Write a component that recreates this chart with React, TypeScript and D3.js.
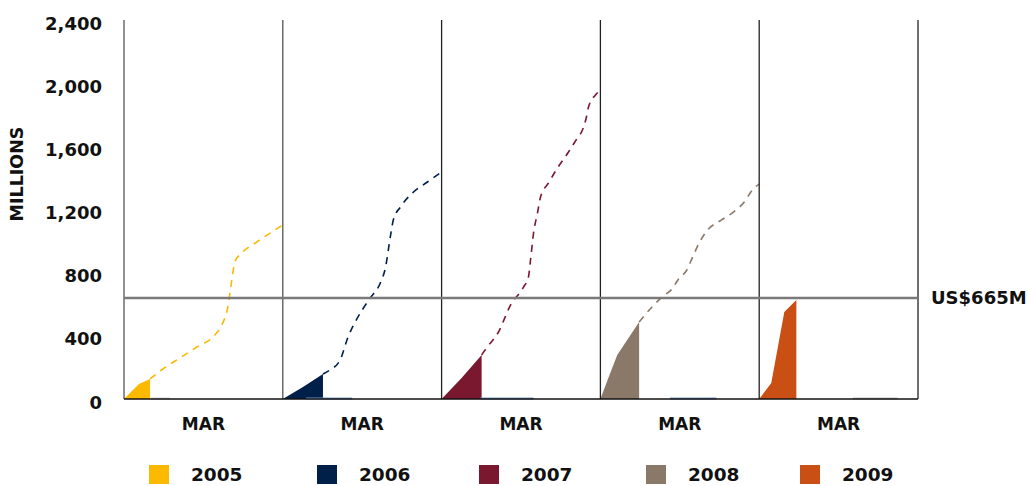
import React from "react";
import * as d3 from "d3";

// ---- Data (x = % of the year panel, value = US$ millions) ----
const YEARS = ["2005", "2006", "2007", "2008", "2009"];
const COLORS = ["#FBB900", "#00204A", "#7A1830", "#8A7869", "#C94F14"];
const Y_TICKS = [0, 400, 800, 1200, 1600, 2000, 2400];
const X_LABEL = "MAR";
const TARGET_VALUE = 640;
const TARGET_LABEL = "US$665M";

const actual2005: [number, number][] = [[0, 0], [9.4, 95], [16.4, 127]];
const actual2006: [number, number][] = [[0, 0], [12.7, 76], [25.3, 158]];
const actual2007: [number, number][] = [[0, 0], [12.6, 133], [25.2, 279]];
const actual2008: [number, number][] = [[0, 0], [5, 133], [10.6, 279], [24.4, 488]];
const actual2009: [number, number][] = [[0, 0], [7.6, 101], [15.8, 551], [23.4, 627]];

const proj2005: [number, number][] = [
  [16.4, 127], [24.5, 190], [35.2, 260], [45.9, 329], [57.2, 405], [61.6, 469],
  [65.4, 583], [67.9, 754], [69.8, 868], [74.2, 925], [83.6, 994], [95, 1070], [100, 1102],
];
const proj2006: [number, number][] = [
  [25.3, 158], [29.7, 184], [36.1, 247], [41.1, 393], [45.6, 488], [50, 564],
  [55.1, 640], [61.4, 735], [64.6, 830], [67.7, 1026], [69.6, 1134], [74.1, 1216],
  [81.6, 1304], [91.1, 1374], [100, 1437],
];
const proj2007: [number, number][] = [
  [25.2, 279], [28.3, 323], [35.8, 424], [43.4, 595], [51.6, 709], [54.7, 773],
  [56, 880], [57.9, 1051], [60.4, 1178], [62.3, 1279], [67.3, 1368], [73, 1463],
  [79.9, 1564], [85.5, 1653], [88.7, 1703], [91.2, 1786], [92.5, 1849], [96.9, 1925], [98.7, 1944],
];
const proj2008: [number, number][] = [
  [24.4, 488], [32.5, 583], [38.8, 646], [45.6, 703], [48.8, 754], [54.4, 817],
  [58.1, 899], [62.5, 994], [67.5, 1070], [76.3, 1134], [83.1, 1178], [90.6, 1247],
  [95.6, 1323], [100, 1361],
];
const proj2009: [number, number][] = [];

// faint baseline marks (start %, end %) under each panel
const marks2005 = [17, 29];
const marks2006 = [14.6, 43.7];
const marks2007 = [24.5, 57.9];
const marks2008 = [43.8, 73.1];
const marks2009 = [58.9, 87.3];
const MARK_COLORS = ["#d9cfd2", "#7396c4", "#7396c4", "#7396c4", "#c4c0bd"];

const ACTUALS = [actual2005, actual2006, actual2007, actual2008, actual2009];
const PROJS = [proj2005, proj2006, proj2007, proj2008, proj2009];
const MARKS = [marks2005, marks2006, marks2007, marks2008, marks2009];

const FONT = "'DejaVu Sans', sans-serif";

export default function App() {
  const W = 1028;
  const H = 486;
  const left = 124;
  const right = 918;
  const top = 20;
  const bottom = 399;

  const y = d3.scaleLinear().domain([0, 2400]).range([bottom, top]);
  const band = d3.scaleBand<string>().domain(YEARS).range([left, right]).padding(0);
  const fmt = d3.format(",");

  const legendX = [149, 317, 479, 646, 800];

  return (
    <svg width={W} height={H} style={{ position: "absolute", left: 0, top: 0, background: "#fff" }}>
      {/* y tick labels */}
      {Y_TICKS.map((t) => (
        <text key={t} x={102} y={y(t) + 9.5} textAnchor="end" fontFamily={FONT} fontWeight="bold" fontSize={18} fill="#111">
          {fmt(t)}
        </text>
      ))}
      <text
        transform={`translate(23,174) rotate(-90)`}
        textAnchor="middle"
        fontFamily={FONT}
        fontWeight="bold"
        fontSize={17.5}
        fill="#111"
      >
        MILLIONS
      </text>

      {YEARS.map((yr, i) => {
        const x0 = band(yr)!;
        const x = d3.scaleLinear().domain([0, 100]).range([x0, x0 + band.bandwidth()]);
        const area = d3
          .area<[number, number]>()
          .x((d) => x(d[0]))
          .y0(y(0))
          .y1((d) => y(d[1]))
          .curve(d3.curveLinear);
        const line = d3
          .line<[number, number]>()
          .x((d) => x(d[0]))
          .y((d) => y(d[1]))
          .curve(d3.curveMonotoneX);
        const m = MARKS[i];
        return (
          <g key={yr}>
            <path d={area(ACTUALS[i]) || ""} fill={COLORS[i]} />
            {PROJS[i].length > 0 && (
              <path d={line(PROJS[i]) || ""} fill="none" stroke={COLORS[i]} strokeWidth={1.6} strokeDasharray="7 6" />
            )}
            <line x1={x(m[0])} x2={x(m[1])} y1={bottom - 0.5} y2={bottom - 0.5} stroke={MARK_COLORS[i]} strokeWidth={2} />
            <text
              x={x0 + band.bandwidth() / 2}
              y={430}
              textAnchor="middle"
              fontFamily={FONT}
              fontWeight="bold"
              fontSize={17}
              fill="#111"
            >
              {X_LABEL}
            </text>
          </g>
        );
      })}

      {/* panel separators */}
      {[...YEARS.map((yr) => band(yr)!), right].map((px, i) => (
        <line key={i} x1={px} x2={px} y1={top} y2={bottom} stroke={i === 0 || i === 1 ? "#555" : "#222"} strokeWidth={1.3} />
      ))}
      {/* baseline */}
      <line x1={left} x2={right} y1={bottom} y2={bottom} stroke="#111" strokeWidth={1.6} />
      {/* target line */}
      <line x1={left} x2={right} y1={y(TARGET_VALUE)} y2={y(TARGET_VALUE)} stroke="#7a7a7a" strokeWidth={2.4} />
      <text x={931} y={y(TARGET_VALUE) + 6.5} fontFamily={FONT} fontWeight="bold" fontSize={18} fill="#111">
        {TARGET_LABEL}
      </text>

      {/* legend */}
      {YEARS.map((yr, i) => (
        <g key={"lg" + yr}>
          <rect x={legendX[i]} y={465} width={20} height={19} fill={COLORS[i]} />
          <text x={legendX[i] + 42} y={481} fontFamily={FONT} fontWeight="bold" fontSize={18.5} fill="#111">
            {yr}
          </text>
        </g>
      ))}
    </svg>
  );
}
